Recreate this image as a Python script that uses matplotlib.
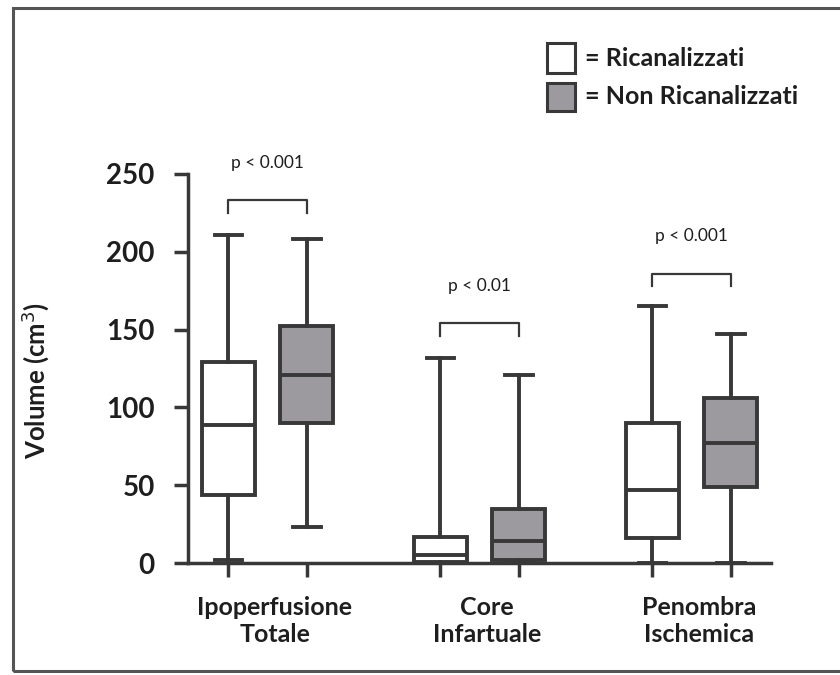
import matplotlib
matplotlib.use("Agg")
import matplotlib.pyplot as plt
from matplotlib.patches import Rectangle

plt.rcParams['font.family'] = ['Lato', 'DejaVu Sans']

# Volumi (cm3): min, Q1, mediana, Q3, max per gruppo
categorie = ['Ipoperfusione\nTotale', 'Core\nInfartuale', 'Penombra\nIschemica']
ric_min = [2, 0, 0]
ric_q1 = [44, 0.5, 16]
ric_med = [89, 5, 47]
ric_q3 = [129, 17, 90]
ric_max = [211, 132, 165]
nonric_min = [23, 1, 0]
nonric_q1 = [90, 2, 49]
nonric_med = [121, 14, 77]
nonric_q3 = [152, 35, 106]
nonric_max = [208, 121, 147]
p_valori = ['p < 0.001', 'p < 0.01', 'p < 0.001']
y_parentesi = [233, 154, 186]

col_linea = '#383838'
col_grigio = '#9c9a9f'
col_testo = '#1e1e1e'

fig = plt.figure(figsize=(8.4, 6.75), dpi=100)
ax = fig.add_axes([188 / 840, 112 / 675, 583 / 840, 389 / 675])

stats_ric = []
stats_nonric = []
for i in range(3):
    stats_ric.append(dict(whislo=ric_min[i], q1=ric_q1[i], med=ric_med[i],
                          q3=ric_q3[i], whishi=ric_max[i]))
    stats_nonric.append(dict(whislo=nonric_min[i], q1=nonric_q1[i],
                             med=nonric_med[i], q3=nonric_q3[i],
                             whishi=nonric_max[i]))

pos_ric = [0, 1, 2]
pos_nonric = [p + 0.37 for p in pos_ric]
lw = 2.8
stile = dict(
    widths=0.25, patch_artist=True, showfliers=False,
    whiskerprops=dict(color=col_linea, linewidth=lw),
    capprops=dict(color=col_linea, linewidth=lw),
    medianprops=dict(color=col_linea, linewidth=lw),
    capwidths=0.13,
)
b1 = ax.bxp(stats_ric, positions=pos_ric,
            boxprops=dict(facecolor='white', edgecolor=col_linea, linewidth=lw),
            **stile)
b2 = ax.bxp(stats_nonric, positions=pos_nonric,
            boxprops=dict(facecolor=col_grigio, edgecolor=col_linea, linewidth=lw),
            **stile)
for art in b1['whiskers'] + b2['whiskers'] + b1['caps'] + b2['caps']:
    art.set_clip_on(False)

# parentesi di significativita'
for i in range(3):
    x0, x1 = pos_ric[i], pos_nonric[i]
    y = y_parentesi[i]
    ax.plot([x0, x0, x1, x1], [y - 8, y, y, y - 8], color=col_linea,
            linewidth=1.6, clip_on=False)
    ax.text((x0 + x1) / 2, y + 19, p_valori[i], ha='center', va='bottom',
            fontsize=12.5, color=col_testo)

ax.set_xlim(-0.19, 2.56)
ax.set_ylim(0, 250)
ax.set_yticks([0, 50, 100, 150, 200, 250])
ax.set_xticks(pos_ric + pos_nonric)
ax.set_xticklabels([])
ax.tick_params(axis='both', direction='out', length=10, width=2.5,
               color=col_linea)
ax.tick_params(axis='y', pad=14, labelsize=20)
for lab in ax.get_yticklabels():
    lab.set_fontweight('bold')
    lab.set_color(col_testo)

for s in ['top', 'right']:
    ax.spines[s].set_visible(False)
for s in ['left', 'bottom']:
    ax.spines[s].set_linewidth(2.5)
    ax.spines[s].set_color(col_linea)

for i, cat in enumerate(categorie):
    ax.text(pos_ric[i] + 0.22, -21, cat, ha='center', va='top',
            fontsize=18, fontweight='bold', color=col_testo,
            linespacing=1.25)

ax.set_ylabel('Volume (cm$^3$)', fontsize=18.5, fontweight='bold',
              color=col_testo, labelpad=20)
ax.yaxis.set_label_coords(-0.235, 0.47)

# legenda
fig.patches.append(Rectangle((547 / 840, 1 - 73 / 675), 28 / 840, 30 / 675,
                             facecolor='white', edgecolor=col_linea,
                             linewidth=2.2, transform=fig.transFigure))
fig.patches.append(Rectangle((547 / 840, 1 - 111 / 675), 28 / 840, 28 / 675,
                             facecolor=col_grigio, edgecolor=col_linea,
                             linewidth=2.2, transform=fig.transFigure))
fig.text(585 / 840, 1 - 58 / 675, '= Ricanalizzati', fontsize=18,
         fontweight='bold', va='center', color=col_testo)
fig.text(585 / 840, 1 - 97 / 675, '= Non Ricanalizzati', fontsize=18,
         fontweight='bold', va='center', color=col_testo)

# cornice esterna
fig.patches.append(Rectangle((13 / 840, 1 - 671 / 675), 840 / 840, 663 / 675,
                             facecolor='none', edgecolor='#555555',
                             linewidth=2.2, transform=fig.transFigure))

fig.savefig('out.png', dpi=100)
